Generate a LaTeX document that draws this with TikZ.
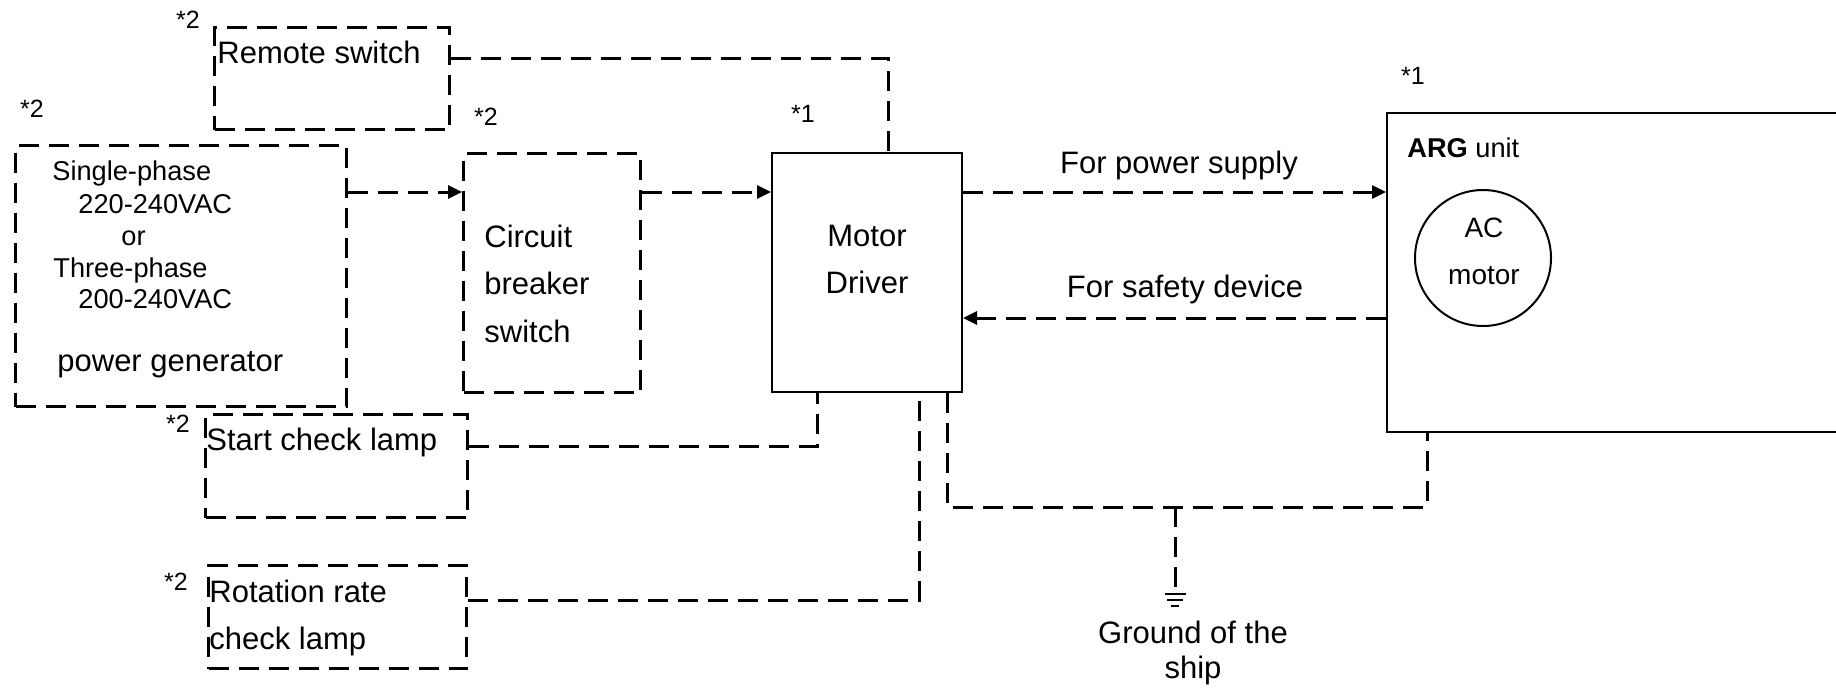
\documentclass[tikz,border=0pt]{standalone}
\usepackage{fontspec}
\setmainfont{Liberation Sans}
\usetikzlibrary{arrows.meta}
\begin{document}
\begin{tikzpicture}[x=0.5pt,y=-0.5pt,
  big/.style={font=\fontsize{15.5}{18}\selectfont, inner sep=0pt},
  mid/.style={font=\fontsize{13.6}{16}\selectfont, inner sep=0pt},
  acm/.style={font=\fontsize{14}{16}\selectfont, inner sep=0pt},
  star/.style={font=\fontsize{12.5}{14}\selectfont, inner sep=0pt},
  dbox/.style={draw, line width=1.5pt, dash pattern=on 10pt off 5pt, anchor=north west, inner sep=0pt},
  sbox/.style={draw, line width=1pt, anchor=north west, inner sep=0pt},
  wire/.style={line width=1.5pt, dash pattern=on 10pt off 5pt},
  arr/.style={-{Triangle[length=7pt,width=6.5pt]}}]
\useasboundingbox (0,0) rectangle (1836,687);
\clip (0,0) rectangle (1836,687);

% boxes
\node[dbox, minimum width=117.5pt, minimum height=51pt] (rs) at (213,26) {};
\node[dbox, minimum width=165.5pt, minimum height=130.5pt] (pg) at (14,144) {};
\node[dbox, minimum width=88.5pt, minimum height=119.5pt] (cb) at (462,152) {};
\node[sbox, minimum width=95pt, minimum height=119.5pt] (md) at (771,152) {};
\node[sbox, minimum width=232pt, minimum height=159.5pt] (arg) at (1386,112) {};
\node[dbox, minimum width=131pt, minimum height=51.5pt] (sc) at (204,413) {};
\node[dbox, minimum width=129pt, minimum height=51.5pt] (rr) at (207,564) {};
\node[draw, circle, line width=1pt, minimum size=68pt, inner sep=0pt] (acmot) at (1483,258) {};

% texts
\node[big, anchor=base west] (trs) at (217,63) {Remote switch};
\node[mid, anchor=base west] (t1) at (52,180) {Single-phase};
\node[mid, anchor=base west] (t2) at (78,213) {220-240VAC};
\node[mid, anchor=base west] (t3) at (121,245) {or};
\node[mid, anchor=base west] (t4) at (53,277) {Three-phase};
\node[mid, anchor=base west] (t5) at (78,308) {200-240VAC};
\node[big, anchor=base west] (t6) at (57,371) {power generator};
\node[big, anchor=base west] (c1) at (484,247) {Circuit};
\node[big, anchor=base west] (c2) at (484,294) {breaker};
\node[big, anchor=base west] (c3) at (484,342) {switch};
\node[big, anchor=base] (m1) at (867,246) {Motor};
\node[big, anchor=base] (m2) at (867,293) {Driver};
\node[big, anchor=base west] (ts) at (206,450) {Start check lamp};
\node[big, anchor=base west] (tr1) at (209,602) {Rotation rate};
\node[big, anchor=base west] (tr2) at (209,649) {check lamp};
\node[big, anchor=base] (fps) at (1179,173) {For power supply};
\node[big, anchor=base] (fsd) at (1185,297) {For safety device};
\node[mid, anchor=base west] (targ) at (1407,157) {\textbf{ARG} unit};
\node[acm, anchor=base] (ac1) at (1484,237) {AC};
\node[acm, anchor=base] (ac2) at (1484,284) {motor};
\node[big, anchor=base] (g1) at (1193,643) {Ground of the};
\node[big, anchor=base] (g2) at (1193,678) {ship};

% star labels
\node[star, anchor=base] (s1) at (188,28) {*2};
\node[star, anchor=base] (s2) at (32,117) {*2};
\node[star, anchor=base] (s3) at (486,125) {*2};
\node[star, anchor=base] (s4) at (803,122) {*1};
\node[star, anchor=base] (s5) at (1413,84) {*1};
\node[star, anchor=base] (s6) at (178,432) {*2};
\node[star, anchor=base] (s7) at (176,590) {*2};

% connectors
\draw[wire] (rs.east |- 0,58) -| (888,0 |- md.north);
\draw[wire, arr] (pg.east |- 0,192) -- (cb.west |- 0,192);
\draw[wire, arr] (cb.east |- 0,192) -- (md.west |- 0,192);
\draw[wire, arr] (md.east |- 0,192) -- (arg.west |- 0,192);
\draw[wire, arr] (arg.west |- 0,318) -- (md.east |- 0,318);
\draw[wire] (sc.east |- 0,446) -| (817,0 |- md.south);
\draw[wire] (rr.east |- 0,600) -| (919,0 |- md.south);
\coordinate (gj) at (1175,507);
\coordinate (gnd) at (1175,594);
\draw[wire] (947,0 |- md.south) |- (gj) -| (1427,0 |- arg.south);
\draw[wire] (gj) -- (gnd);
\draw[line width=1pt] (1164.5,594) -- (1185.5,594)
  (1167,600) -- (1183,600) (1171,606) -- (1179,606);
\end{tikzpicture}
\end{document}
